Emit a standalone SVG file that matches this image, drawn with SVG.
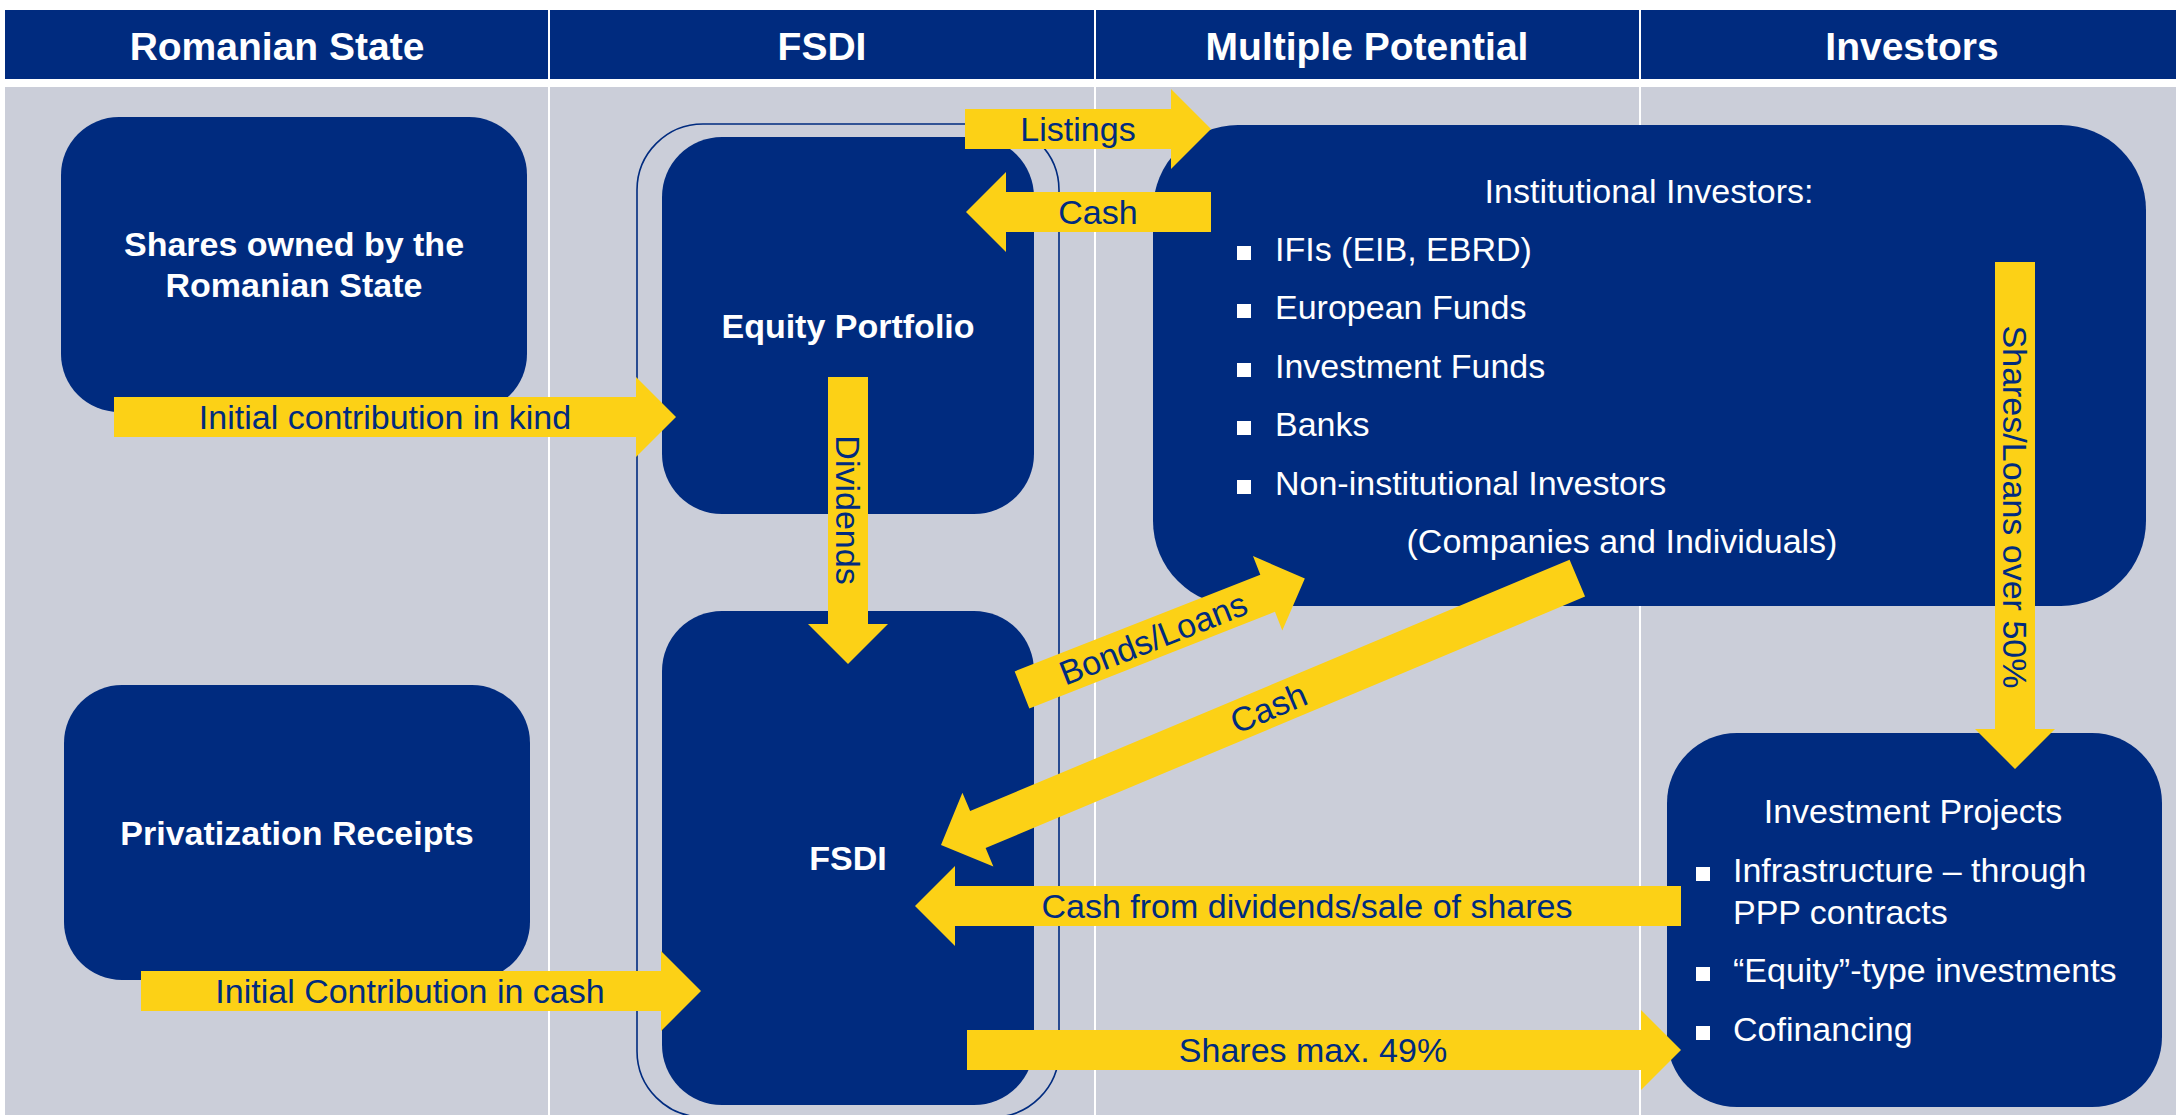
<svg xmlns="http://www.w3.org/2000/svg" width="2176" height="1115" viewBox="0 0 2176 1115">
<style>
.bg{fill:#CBCED9}
.hdrbar{fill:#002B7F}
.hdr{font-family:"Liberation Sans",Arial,sans-serif;font-weight:bold;font-size:39px;fill:#FFFFFF;text-anchor:middle}
.div{stroke:#FFFFFF;stroke-width:2}
.node{fill:#002B7F}
.nt{font-family:"Liberation Sans",Arial,sans-serif;font-weight:bold;font-size:34px;fill:#FFFFFF;text-anchor:middle}
.it{font-family:"Liberation Sans",Arial,sans-serif;font-size:34px;fill:#FFFFFF}
.itc{font-family:"Liberation Sans",Arial,sans-serif;font-size:34px;fill:#FFFFFF;text-anchor:middle}
.bul{fill:#FFFFFF}
.arrow{fill:#FCD116}
.at{font-family:"Liberation Sans",Arial,sans-serif;font-size:34px;fill:#002B7F;text-anchor:middle}
.frame{fill:none;stroke:#002B7F;stroke-width:1.6}
</style>
<rect x="0" y="0" width="2176" height="1115" fill="#FFFFFF"/>
<g id="header">
<rect class="hdrbar" x="5" y="10" width="2171" height="69"/>
<line class="div" x1="549" y1="10" x2="549" y2="79"/>
<line class="div" x1="1095" y1="10" x2="1095" y2="79"/>
<line class="div" x1="1640" y1="10" x2="1640" y2="79"/>
<text class="hdr" x="277" y="60">Romanian State</text>
<text class="hdr" x="822" y="60">FSDI</text>
<text class="hdr" x="1367" y="60">Multiple Potential</text>
<text class="hdr" x="1912" y="60">Investors</text>
</g>
<g id="lanes">
<rect class="bg" x="5" y="87" width="2171" height="1028"/>
<line class="div" x1="549" y1="87" x2="549" y2="1115"/>
<line class="div" x1="1095" y1="87" x2="1095" y2="1115"/>
<line class="div" x1="1640" y1="87" x2="1640" y2="1115"/>
</g>
<g id="fsdi-frame">
<rect class="frame" x="637" y="124" width="422" height="993" rx="66" ry="66"/>
</g>
<g id="node-shares">
<rect class="node" x="61" y="117" width="466" height="295" rx="58"/>
<text class="nt" x="294" y="256">Shares owned by the</text>
<text class="nt" x="294" y="297">Romanian State</text>
</g>
<g id="node-equity">
<rect class="node" x="662" y="137" width="372" height="377" rx="60"/>
<text class="nt" x="848" y="338">Equity Portfolio</text>
</g>
<g id="node-privatization">
<rect class="node" x="64" y="685" width="466" height="295" rx="58"/>
<text class="nt" x="297" y="845">Privatization Receipts</text>
</g>
<g id="node-fsdi">
<rect class="node" x="662" y="611" width="372" height="494" rx="60"/>
<text class="nt" x="848" y="870">FSDI</text>
</g>
<g id="node-institutional">
<rect class="node" x="1153" y="125" width="993" height="481" rx="85"/>
<text class="itc" x="1649" y="203">Institutional Investors:</text>
<rect class="bul" x="1237" y="246" width="14" height="14"/>
<text class="it" x="1275" y="261">IFIs (EIB, EBRD)</text>
<rect class="bul" x="1237" y="304" width="14" height="14"/>
<text class="it" x="1275" y="319">European Funds</text>
<rect class="bul" x="1237" y="363" width="14" height="14"/>
<text class="it" x="1275" y="378">Investment Funds</text>
<rect class="bul" x="1237" y="421" width="14" height="14"/>
<text class="it" x="1275" y="436">Banks</text>
<rect class="bul" x="1237" y="480" width="14" height="14"/>
<text class="it" x="1275" y="495">Non-institutional Investors</text>
<text class="itc" x="1622" y="553">(Companies and Individuals)</text>
</g>
<g id="node-projects">
<rect class="node" x="1667" y="733" width="495" height="374" rx="70"/>
<text class="itc" x="1913" y="823">Investment Projects</text>
<rect class="bul" x="1696" y="867" width="14" height="14"/>
<text class="it" x="1733" y="882">Infrastructure – through</text>
<text class="it" x="1733" y="924">PPP contracts</text>
<rect class="bul" x="1696" y="967" width="14" height="14"/>
<text class="it" x="1733" y="982">“Equity”-type investments</text>
<rect class="bul" x="1696" y="1026" width="14" height="14"/>
<text class="it" x="1733" y="1041">Cofinancing</text>
</g>
<g id="connectors">
<g id="arrow-kind">
<polygon class="arrow" points="114,397 636,397 636,377 676,417 636,457 636,437 114,437"/>
<text class="at" x="385" y="429">Initial contribution in kind</text>
</g>
<g id="arrow-cash-contrib">
<polygon class="arrow" points="141,971 661,971 661,951 701,991 661,1031 661,1011 141,1011"/>
<text class="at" x="410" y="1003">Initial Contribution in cash</text>
</g>
<g id="arrow-listings">
<polygon class="arrow" points="965,109 1171,109 1171,89 1211,129 1171,169 1171,149 965,149"/>
<text class="at" x="1078" y="141">Listings</text>
</g>
<g id="arrow-cash-top">
<polygon class="arrow" points="966,212 1006,172 1006,192 1211,192 1211,232 1006,232 1006,252"/>
<text class="at" x="1098" y="224">Cash</text>
</g>
<g id="arrow-dividends">
<polygon class="arrow" points="828,377 868,377 868,624 888,624 848,664 808,624 828,624"/>
<text class="at" transform="translate(848 510) rotate(90)" x="0" y="12">Dividends</text>
</g>
<g id="arrow-shares-loans">
<polygon class="arrow" points="1995,262 2035,262 2035,729 2055,729 2015,769 1975,729 1995,729"/>
<text class="at" transform="translate(2015 507) rotate(90)" x="0" y="12">Shares/Loans over 50%</text>
</g>
<g id="arrow-bonds" transform="translate(1022 690) rotate(-21.5)">
<polygon class="arrow" points="0,-20 264,-20 264,-40 304,0 264,40 264,20 0,20"/>
<text class="at" x="141" y="12">Bonds/Loans</text>
</g>
<g id="arrow-cash-diag" transform="translate(941 845) rotate(-22.75)">
<polygon class="arrow" points="0,0 40,-40 40,-20 690,-20 690,20 40,20 40,40"/>
<text class="at" x="355" y="12">Cash</text>
</g>
<g id="arrow-cash-dividends">
<polygon class="arrow" points="915,906 955,866 955,886 1681,886 1681,926 955,926 955,946"/>
<text class="at" x="1307" y="918">Cash from dividends/sale of shares</text>
</g>
<g id="arrow-shares-max">
<polygon class="arrow" points="967,1030 1641,1030 1641,1010 1681,1050 1641,1090 1641,1070 967,1070"/>
<text class="at" x="1313" y="1062">Shares max. 49%</text>
</g>
</g>
</svg>
